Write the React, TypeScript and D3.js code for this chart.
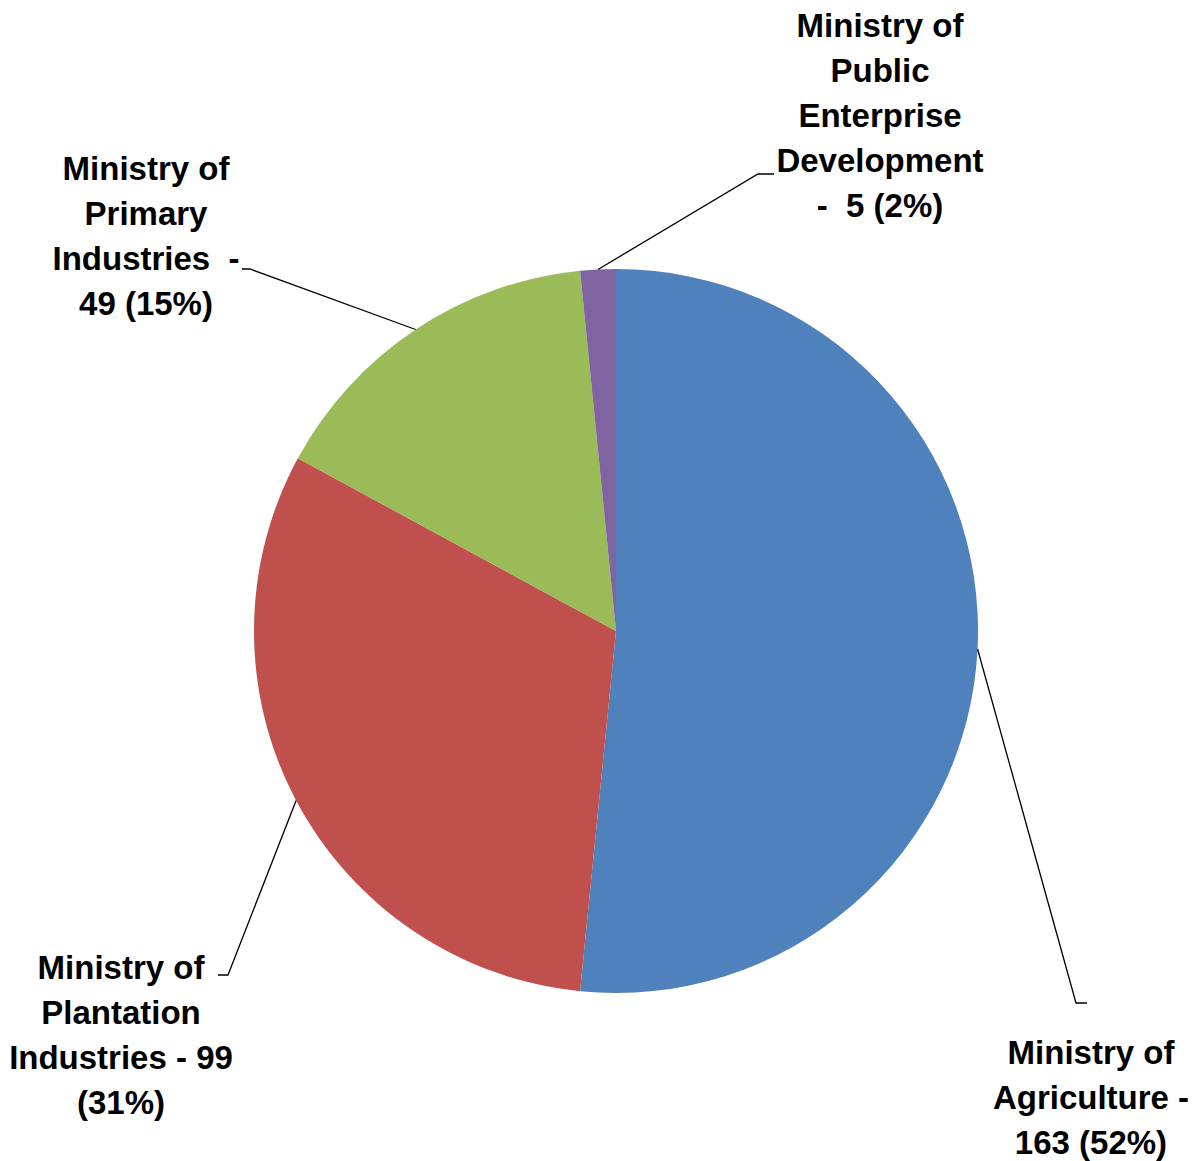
import React, { useEffect, useRef } from 'react';
import * as d3 from 'd3';

// Data
const categories = [
  'Ministry of Agriculture',
  'Ministry of Plantation Industries',
  'Ministry of Primary Industries',
  'Ministry of Public Enterprise Development',
];
const values = [163, 99, 49, 5];
const colors = ['#4F81BD', '#C0504D', '#9BBB59', '#8064A2'];
const labelLines = [
  ['Ministry of', 'Agriculture -', '163 (52%)'],
  ['Ministry of', 'Plantation', 'Industries - 99', '(31%)'],
  ['Ministry of', 'Primary', 'Industries  -', '49 (15%)'],
  ['Ministry of', 'Public', 'Enterprise', 'Development', '-  5 (2%)'],
];

// label layout: text centre x, first baseline y, leader elbow and leader end
const labelLayout = [
  { x: 1091, y: 1064, elbow: [1076, 1003], end: [1087, 1003] },
  { x: 121, y: 979, elbow: [228, 975], end: [218, 975] },
  { x: 146, y: 180, elbow: [250, 269], end: [242, 269] },
  { x: 880, y: 37, elbow: [758, 174], end: [774, 174] },
];

const App: React.FC = () => {
  const ref = useRef<SVGSVGElement | null>(null);

  useEffect(() => {
    const width = 1192;
    const height = 1161;
    const cx = 616;
    const cy = 631;
    const radius = 362;
    const lineHeight = 45;

    const svg = d3.select(ref.current);
    svg.selectAll('*').remove();
    svg.attr('width', width).attr('height', height);

    const pie = d3
      .pie<number>()
      .sort(null)
      .value((d) => d);
    const arcs = pie(values);
    const arc = d3.arc<d3.PieArcDatum<number>>().innerRadius(0).outerRadius(radius);

    const g = svg.append('g').attr('transform', `translate(${cx},${cy})`);

    g.selectAll('path')
      .data(arcs)
      .enter()
      .append('path')
      .attr('d', arc)
      .attr('fill', (_d, i) => colors[i]);

    // Leader lines
    arcs.forEach((a, i) => {
      const mid = (a.startAngle + a.endAngle) / 2;
      const sx = cx + radius * Math.sin(mid);
      const sy = cy - radius * Math.cos(mid);
      const lay = labelLayout[i];
      svg
        .append('polyline')
        .attr('points', `${sx},${sy} ${lay.elbow[0]},${lay.elbow[1]} ${lay.end[0]},${lay.end[1]}`)
        .attr('fill', 'none')
        .attr('stroke', '#000')
        .attr('stroke-width', 1.3);
    });

    // Labels
    categories.forEach((_c, i) => {
      const lay = labelLayout[i];
      const t = svg
        .append('text')
        .attr('text-anchor', 'middle')
        .attr('font-family', '"Liberation Sans", Arial, sans-serif')
        .attr('font-weight', 'bold')
        .attr('font-size', 33)
        .attr('fill', '#000')
        .style('white-space', 'pre');
      labelLines[i].forEach((line, j) => {
        t.append('tspan')
          .attr('x', lay.x)
          .attr('y', lay.y + j * lineHeight)
          .text(line);
      });
    });
  }, []);

  return (
    <svg
      ref={ref}
      style={{ position: 'absolute', left: 0, top: 0, background: '#fff' }}
    ></svg>
  );
};

export default App;
